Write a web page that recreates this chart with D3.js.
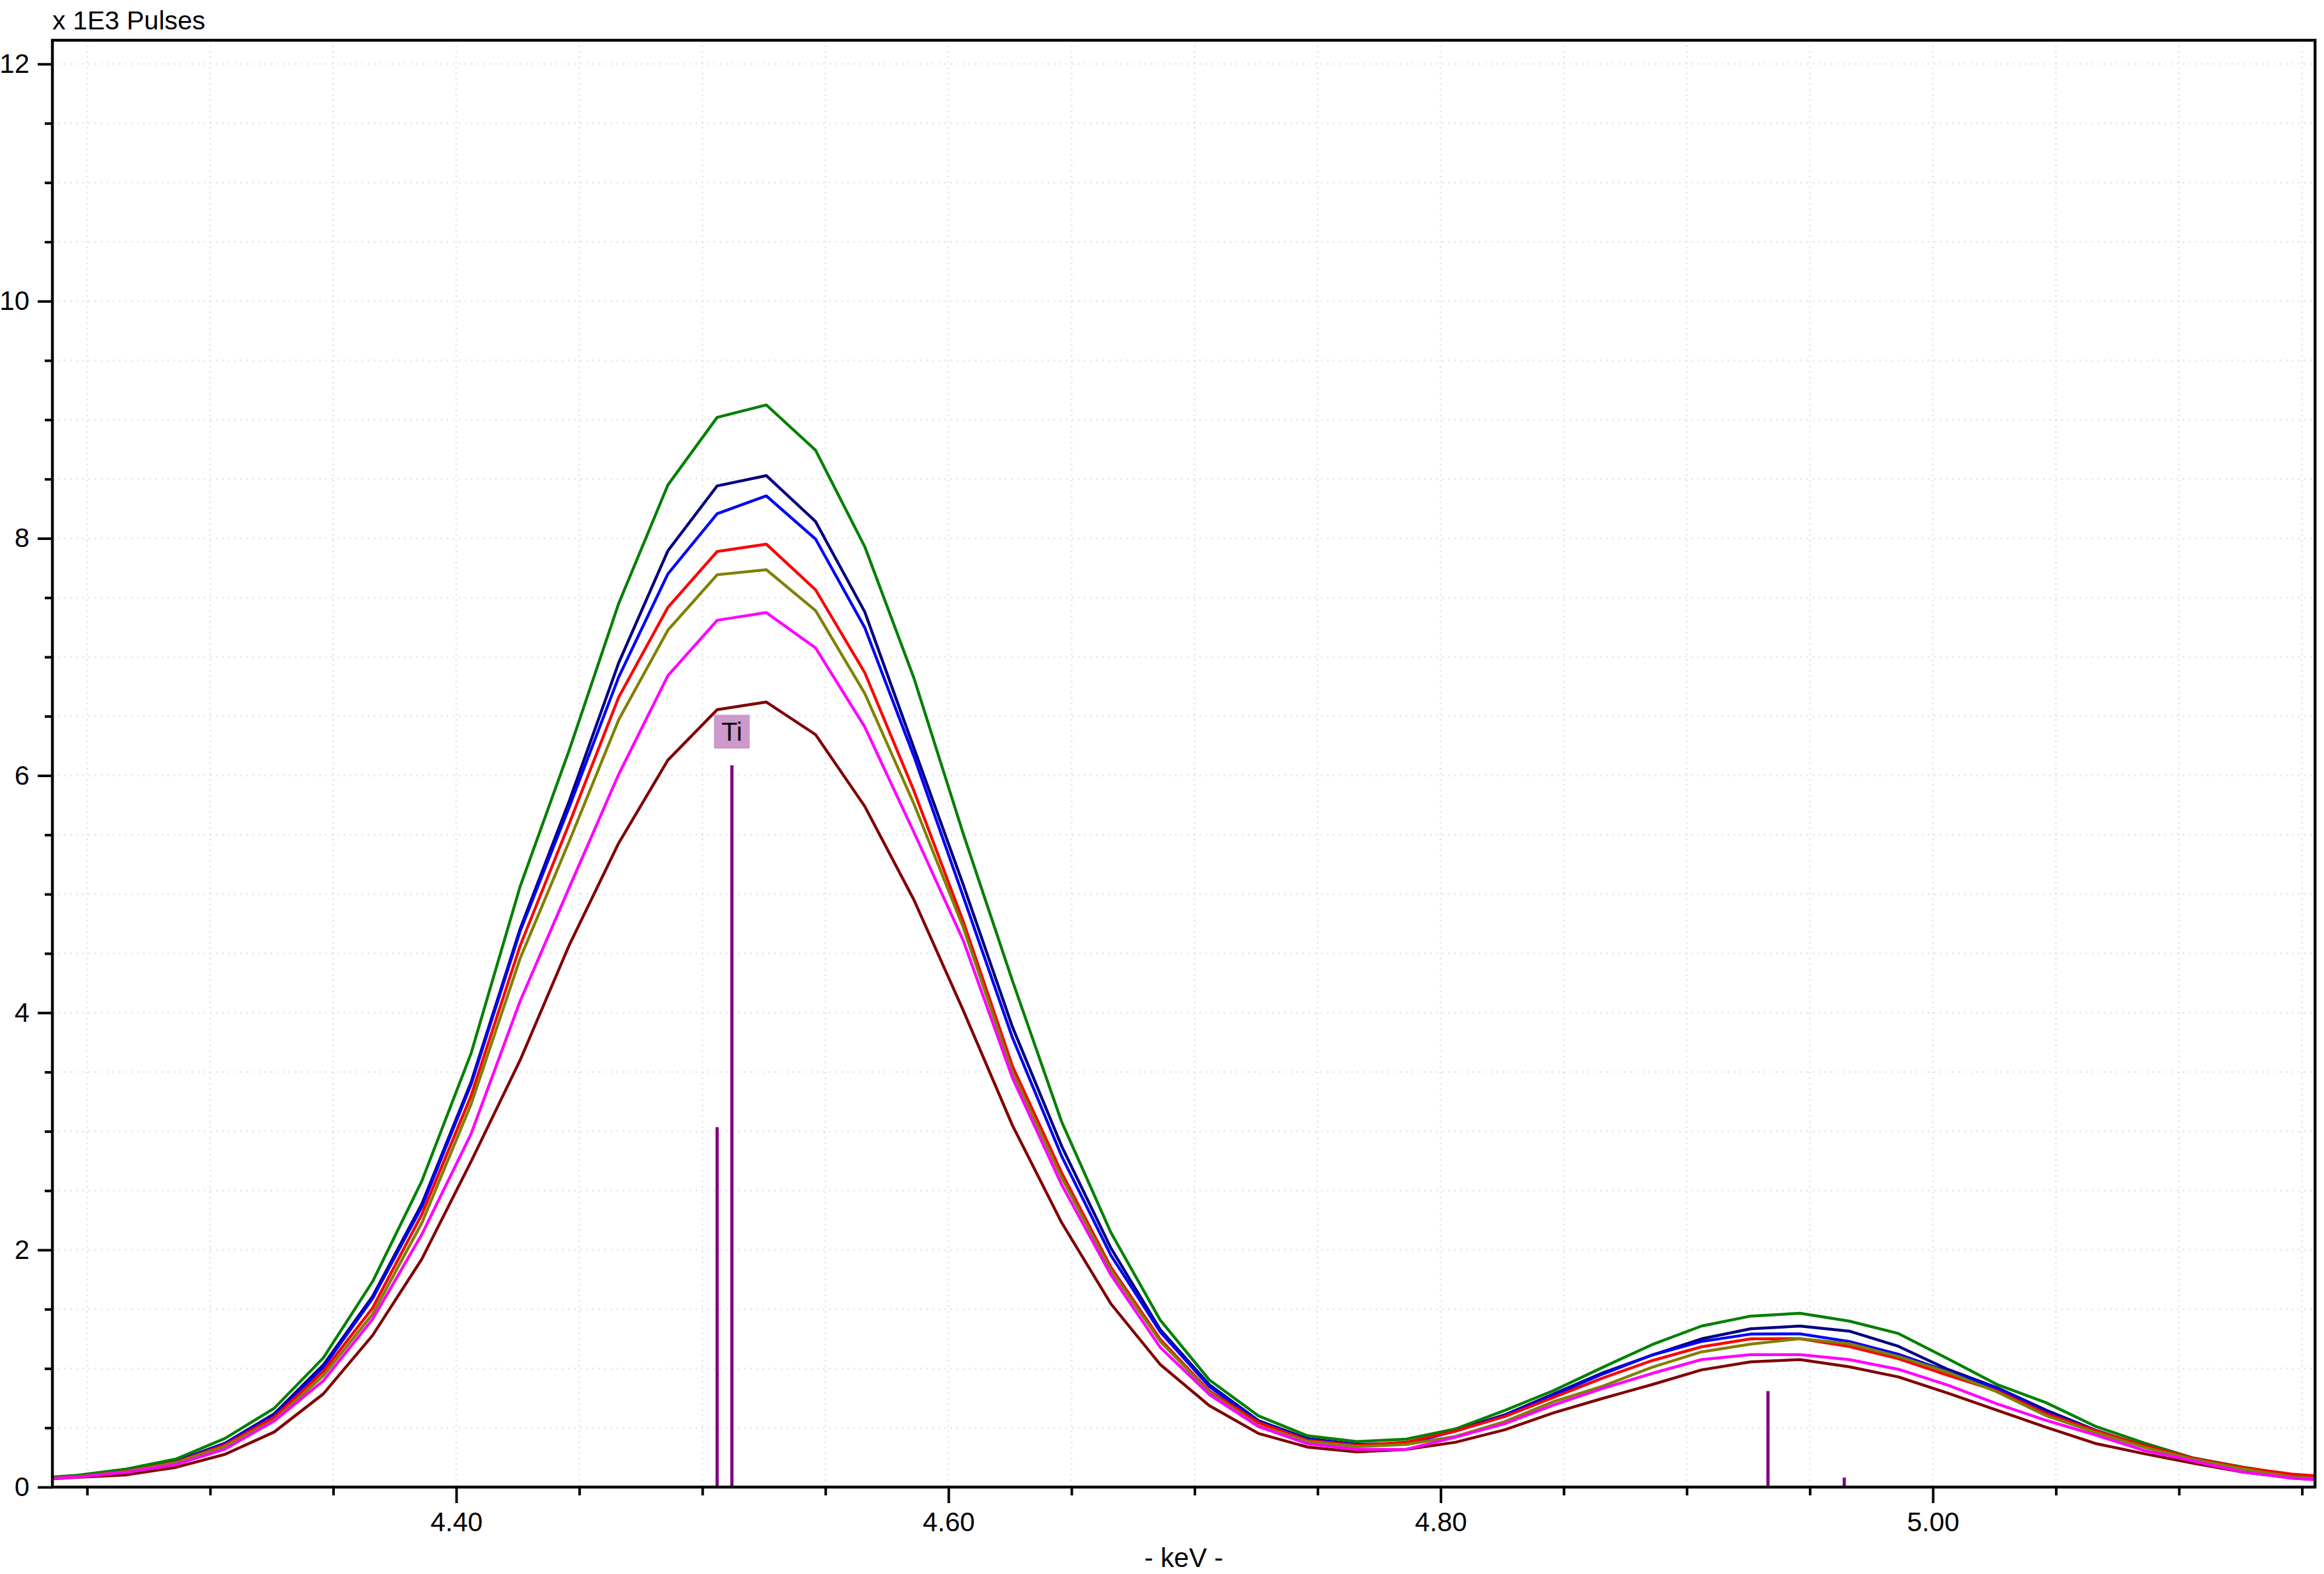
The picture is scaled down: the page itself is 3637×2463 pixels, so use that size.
<!DOCTYPE html>
<html>
<head>
<meta charset="utf-8">
<script src="https://cdn.jsdelivr.net/npm/d3@7"></script>
<style>
  body { margin: 0; background: #fff; }
  svg { display: block; }
  text { font-family: "Liberation Sans", Arial, sans-serif; }
</style>
</head>
<body>
<div id="chart"></div>
<script>
// channel energies (keV), 20 eV per channel
var energies = [4.226, 4.246, 4.266, 4.286, 4.306, 4.326, 4.346, 4.366, 4.386, 4.406,
                4.426, 4.446, 4.466, 4.486, 4.506, 4.526, 4.546, 4.566, 4.586, 4.606,
                4.626, 4.646, 4.666, 4.686, 4.706, 4.726, 4.746, 4.766, 4.786, 4.806,
                4.826, 4.846, 4.866, 4.886, 4.906, 4.926, 4.946, 4.966, 4.986, 5.006,
                5.026, 5.046, 5.066, 5.086, 5.106, 5.126, 5.146, 5.166];

// counts, x 1E3 pulses
var spectrumGreen = [0.07, 0.10, 0.153, 0.236, 0.41, 0.664, 1.09, 1.733, 2.58, 3.656,
                     5.067, 6.22, 7.45, 8.45, 9.02, 9.125, 8.743, 7.93, 6.82, 5.51,
                     4.27, 3.08, 2.147, 1.41, 0.904, 0.60, 0.432, 0.384, 0.404, 0.49,
                     0.646, 0.815, 1.011, 1.202, 1.358, 1.442, 1.466, 1.40, 1.295, 1.083,
                     0.866, 0.712, 0.513, 0.371, 0.245, 0.168, 0.103, 0.07];
var spectrumNavy = [0.065, 0.09, 0.136, 0.217, 0.37, 0.618, 1.03, 1.608, 2.387, 3.413,
                    4.71, 5.79, 6.95, 7.895, 8.442, 8.529, 8.142, 7.38, 6.23, 5.08,
                    3.88, 2.875, 2.016, 1.33, 0.863, 0.56, 0.408, 0.36, 0.365, 0.478,
                    0.609, 0.787, 0.964, 1.114, 1.25, 1.335, 1.358, 1.315, 1.187, 0.993,
                    0.839, 0.649, 0.48, 0.346, 0.232, 0.155, 0.095, 0.065];
var spectrumBlue = [0.065, 0.09, 0.135, 0.215, 0.365, 0.605, 1.01, 1.59, 2.362, 3.395,
                    4.69, 5.74, 6.83, 7.70, 8.208, 8.358, 7.994, 7.247, 6.16, 4.98,
                    3.79, 2.79, 1.955, 1.31, 0.847, 0.552, 0.40, 0.36, 0.365, 0.472,
                    0.603, 0.777, 0.955, 1.114, 1.228, 1.29, 1.292, 1.228, 1.12, 0.975,
                    0.835, 0.63, 0.478, 0.346, 0.232, 0.155, 0.095, 0.065];
var spectrumRed = [0.063, 0.088, 0.132, 0.21, 0.355, 0.589, 0.975, 1.51, 2.298, 3.298,
                   4.567, 5.6, 6.66, 7.418, 7.889, 7.951, 7.566, 6.867, 5.87, 4.77,
                   3.55, 2.65, 1.853, 1.247, 0.81, 0.544, 0.393, 0.352, 0.378, 0.472,
                   0.595, 0.758, 0.921, 1.067, 1.183, 1.25, 1.252, 1.185, 1.083, 0.944,
                   0.812, 0.621, 0.476, 0.35, 0.242, 0.164, 0.109, 0.08];
var spectrumOlive = [0.062, 0.087, 0.13, 0.205, 0.343, 0.564, 0.94, 1.458, 2.226, 3.227,
                     4.46, 5.45, 6.47, 7.226, 7.693, 7.735, 7.391, 6.692, 5.76, 4.72,
                     3.50, 2.61, 1.83, 1.23, 0.80, 0.517, 0.384, 0.341, 0.36, 0.427,
                     0.552, 0.721, 0.852, 1.011, 1.14, 1.206, 1.252, 1.21, 1.101, 0.969,
                     0.803, 0.603, 0.462, 0.335, 0.232, 0.153, 0.085, 0.06];
var spectrumMagenta = [0.06, 0.085, 0.125, 0.19, 0.32, 0.557, 0.897, 1.415, 2.13, 2.977,
                       4.10, 5.06, 6.01, 6.842, 7.309, 7.374, 7.076, 6.41, 5.52, 4.61,
                       3.45, 2.55, 1.79, 1.18, 0.78, 0.51, 0.365, 0.318, 0.318, 0.421,
                       0.534, 0.693, 0.833, 0.959, 1.075, 1.117, 1.117, 1.075, 0.993, 0.86,
                       0.703, 0.563, 0.44, 0.308, 0.22, 0.127, 0.076, 0.05];
var spectrumMaroon = [0.058, 0.082, 0.103, 0.166, 0.276, 0.464, 0.786, 1.279, 1.922, 2.744,
                      3.602, 4.574, 5.43, 6.13, 6.555, 6.62, 6.345, 5.74, 4.95, 4.02,
                      3.05, 2.23, 1.546, 1.035, 0.687, 0.452, 0.337, 0.296, 0.318, 0.378,
                      0.483, 0.627, 0.749, 0.865, 0.988, 1.056, 1.075, 1.014, 0.929, 0.793,
                      0.649, 0.504, 0.368, 0.281, 0.20, 0.127, 0.076, 0.05];

// Ti line markers
var lineEnergies = [4.506, 4.512, 4.933, 4.964];
var lineHeights  = [3.035, 6.087, 0.81, 0.08];
var markerLabel = "Ti";

// axis ticks
var xMajorTicks = [4.40, 4.60, 4.80, 5.00];
var xMinorTicks = [4.25, 4.30, 4.35, 4.45, 4.50, 4.55, 4.65, 4.70, 4.75, 4.85, 4.90,
                   4.95, 5.05, 5.10, 5.15];
var yMajorTicks = [0, 2, 4, 6, 8, 10, 12];
var yMinorTicks = [0.5, 1, 1.5, 2.5, 3, 3.5, 4.5, 5, 5.5, 6.5, 7, 7.5, 8.5, 9, 9.5,
                   10.5, 11, 11.5];

var svgWidth = 3637;
var svgHeight = 2463;

var margin = {
    top: 63,
    bottom: 136,
    right: 14,
    left: 82
};

var chartWidth  = svgWidth  - margin.left - margin.right;
var chartHeight = svgHeight - margin.top  - margin.bottom;

var svg = d3.select("#chart")
    .append("svg")
    .attr("width", svgWidth)
    .attr("height", svgHeight);

var chartGroup = svg.append("g")
    .attr("transform", `translate(${margin.left}, ${margin.top})`);

var xScale = d3.scaleLinear()
    .domain([4.2359, 5.1553])
    .range([0, chartWidth]);

var yScale = d3.scaleLinear()
    .domain([0, 12.2])
    .range([chartHeight, 0]);

// gridlines (light dotted)
var gridX = xMinorTicks.concat(xMajorTicks);
var gridY = yMinorTicks.concat(yMajorTicks.filter(d => d > 0));

chartGroup.append("g").selectAll("line")
    .data(gridY)
    .enter()
    .append("line")
    .attr("x1", 0)
    .attr("x2", chartWidth)
    .attr("y1", d => yScale(d))
    .attr("y2", d => yScale(d))
    .attr("stroke", "#dcdcdc")
    .attr("stroke-width", 3)
    .attr("stroke-dasharray", "1.5,8");

chartGroup.append("g").selectAll("line")
    .data(gridX)
    .enter()
    .append("line")
    .attr("x1", d => xScale(d))
    .attr("x2", d => xScale(d))
    .attr("y1", 0)
    .attr("y2", chartHeight)
    .attr("stroke", "#dcdcdc")
    .attr("stroke-width", 3)
    .attr("stroke-dasharray", "1.5,7");

// clip the spectra to the plot box
svg.append("defs").append("clipPath")
    .attr("id", "plotClip")
    .append("rect")
    .attr("width", chartWidth)
    .attr("height", chartHeight);

var seriesList = [
    { values: spectrumMaroon,  color: "#800000" },
    { values: spectrumNavy,    color: "#000080" },
    { values: spectrumBlue,    color: "#0000ff" },
    { values: spectrumGreen,   color: "#008000" },
    { values: spectrumRed,     color: "#ff0000" },
    { values: spectrumOlive,   color: "#808000" },
    { values: spectrumMagenta, color: "#ff00ff" }
];

var lineGen = d3.line()
    .x((d, i) => xScale(energies[i]))
    .y(d => yScale(d));

var linesGroup = chartGroup.append("g")
    .attr("clip-path", "url(#plotClip)");

linesGroup.selectAll("path")
    .data(seriesList)
    .enter()
    .append("path")
    .attr("d", d => lineGen(d.values))
    .attr("fill", "none")
    .attr("stroke", d => d.color)
    .attr("stroke-width", 4.5)
    .attr("stroke-linejoin", "round");

// element line markers
chartGroup.append("g").selectAll("line")
    .data(lineEnergies)
    .enter()
    .append("line")
    .attr("x1", d => xScale(d))
    .attr("x2", d => xScale(d))
    .attr("y1", yScale(0))
    .attr("y2", (d, i) => yScale(lineHeights[i]))
    .attr("stroke", "#800080")
    .attr("stroke-width", 5);

// Ti label box above the tallest marker
var tallest = d3.maxIndex(lineHeights);
var labelX = xScale(lineEnergies[tallest]);
var labelBottom = yScale(lineHeights[tallest]) - 26;
chartGroup.append("rect")
    .attr("x", labelX - 28)
    .attr("y", labelBottom - 53)
    .attr("width", 56)
    .attr("height", 53)
    .attr("fill", "#cc99cc");
chartGroup.append("text")
    .attr("x", labelX)
    .attr("y", labelBottom - 12)
    .attr("text-anchor", "middle")
    .attr("font-size", "41px")
    .attr("fill", "#000")
    .text(markerLabel);

// axes
var xAxisMajor = d3.axisBottom(xScale)
    .tickValues(xMajorTicks)
    .tickSize(25)
    .tickPadding(14)
    .tickFormat(d3.format(".2f"));
var xAxisMinor = d3.axisBottom(xScale)
    .tickValues(xMinorTicks)
    .tickSize(13)
    .tickFormat("");
var yAxisMajor = d3.axisLeft(yScale)
    .tickValues(yMajorTicks)
    .tickSize(23)
    .tickPadding(13)
    .tickFormat(d3.format("d"));
var yAxisMinor = d3.axisLeft(yScale)
    .tickValues(yMinorTicks)
    .tickSize(12)
    .tickFormat("");

[xAxisMajor, xAxisMinor].forEach(function(ax) {
    chartGroup.append("g")
        .attr("class", "axis")
        .attr("transform", `translate(0, ${chartHeight})`)
        .call(ax);
});
[yAxisMajor, yAxisMinor].forEach(function(ax) {
    chartGroup.append("g")
        .attr("class", "axis")
        .call(ax);
});

chartGroup.selectAll(".axis .domain").remove();
chartGroup.selectAll(".axis line")
    .attr("stroke", "#000")
    .attr("stroke-width", 4);
chartGroup.selectAll(".axis text")
    .attr("font-size", "42px")
    .attr("fill", "#000")
    .style("font-family", "'Liberation Sans', Arial, sans-serif");

// plot frame
chartGroup.append("rect")
    .attr("width", chartWidth)
    .attr("height", chartHeight)
    .attr("fill", "none")
    .attr("stroke", "#000")
    .attr("stroke-width", 4.5);

// axis titles
svg.append("text")
    .attr("x", margin.left)
    .attr("y", 46)
    .attr("font-size", "41px")
    .text("x 1E3 Pulses");

svg.append("text")
    .attr("x", margin.left + chartWidth / 2)
    .attr("y", 2452)
    .attr("font-size", "42px")
    .style("text-anchor", "middle")
    .text("- keV -");
</script>
</body>
</html>
